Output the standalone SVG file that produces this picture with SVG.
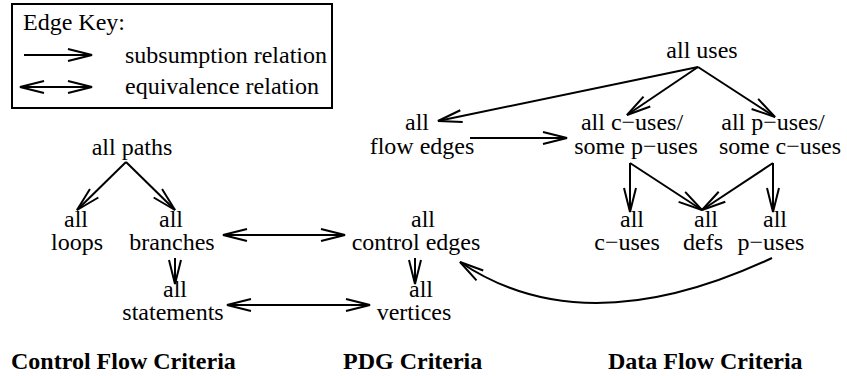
<svg xmlns="http://www.w3.org/2000/svg" width="847" height="376" viewBox="0 0 847 376">
<style>
text { font-family: "Liberation Serif", "Times New Roman", serif; font-size: 24px; fill: #000; }
.n text { text-anchor: middle; }
.title { font-weight: bold; }
.e { fill: none; stroke: #000; stroke-width: 2; }
.sub { marker-end: url(#ah); }
.eq { marker-start: url(#ah); marker-end: url(#ah); }
</style>
<defs>
<marker id="ah" markerUnits="userSpaceOnUse" viewBox="-27 -8 29 16" markerWidth="29" markerHeight="16" refX="0" refY="0" orient="auto-start-reverse" overflow="visible">
<path d="M-24,-6 L0,0 L-24,6" fill="none" stroke="#000" stroke-width="2"/>
</marker>
</defs>
<rect x="0" y="0" width="847" height="376" fill="#fff"/>
<g id="legend">
<rect x="12" y="4" width="320" height="104" fill="none" stroke="#000" stroke-width="2"/>
<text x="23" y="30">Edge Key:</text>
<path class="e sub" d="M24,55 L92,55"/>
<text x="125" y="63">subsumption relation</text>
<path class="e eq" d="M20,87 L92,87"/>
<text x="125" y="94">equivalence relation</text>
</g>
<g id="all-paths" class="n"><text x="132" y="155">all paths</text></g>
<g id="all-loops" class="n"><text x="76" y="227">all</text><text x="77" y="250">loops</text></g>
<g id="all-branches" class="n"><text x="171" y="227">all</text><text x="172" y="250">branches</text></g>
<g id="all-statements" class="n"><text x="175" y="297">all</text><text x="173" y="320">statements</text></g>
<g id="all-control-edges" class="n"><text x="423" y="227">all</text><text x="416" y="250">control edges</text></g>
<g id="all-vertices" class="n"><text x="421" y="297">all</text><text x="414" y="320">vertices</text></g>
<g id="all-flow-edges" class="n"><text x="417" y="130">all</text><text x="422" y="154">flow edges</text></g>
<g id="all-uses" class="n"><text x="702" y="58">all uses</text></g>
<g id="all-c-uses-some-p-uses" class="n"><text x="632" y="130">all c−uses/</text><text x="636" y="154">some p−uses</text></g>
<g id="all-p-uses-some-c-uses" class="n"><text x="773" y="130">all p−uses/</text><text x="780" y="154">some c−uses</text></g>
<g id="all-c-uses" class="n"><text x="632" y="227">all</text><text x="627" y="250">c−uses</text></g>
<g id="all-defs" class="n"><text x="706" y="227">all</text><text x="703" y="250">defs</text></g>
<g id="all-p-uses" class="n"><text x="775" y="227">all</text><text x="771" y="250">p−uses</text></g>
<g id="connectors">
<path class="e sub" d="M126,162 L77,210"/>
<path class="e sub" d="M126,162 L175,210"/>
<path class="e eq" d="M223,235 L345,235"/>
<path class="e sub" d="M175,258 L175,284"/>
<path class="e eq" d="M227,305 L370,305"/>
<path class="e sub" d="M415,258 L415,284"/>
<path class="e sub" d="M698,67 L438,121"/>
<path class="e sub" d="M698,67 L627,115"/>
<path class="e sub" d="M698,67 L775,117"/>
<path class="e sub" d="M470,138 L567,138"/>
<path class="e sub" d="M630,163 L630,212"/>
<path class="e sub" d="M630,163 L702,210"/>
<path class="e sub" d="M773,163 L702,210"/>
<path class="e sub" d="M773,163 L773,212"/>
<path class="e sub" d="M772,258 Q584,346 460,262"/>
</g>
<g id="titles">
<text class="title" x="11" y="369">Control Flow Criteria</text>
<text class="title" x="343" y="369">PDG Criteria</text>
<text class="title" x="608" y="369">Data Flow Criteria</text>
</g>
</svg>
